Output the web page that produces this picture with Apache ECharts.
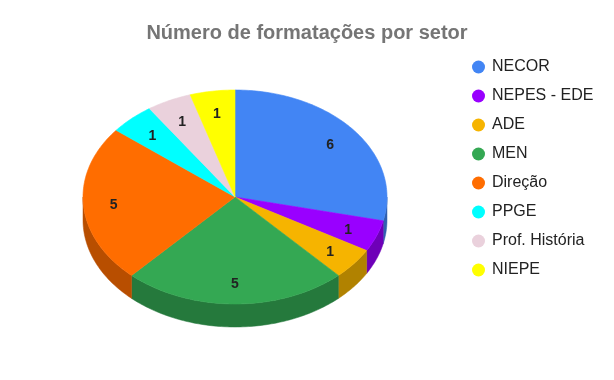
<!DOCTYPE html>
<html><head><meta charset="utf-8">
<script src="https://cdn.jsdelivr.net/npm/echarts@6/dist/echarts.min.js"></script>
<style>html,body{margin:0;padding:0;background:#fff}#c{width:614px;height:380px}</style>
</head><body><div id="c"></div>
<script>
const titleText = 'Número de formatações por setor';
const categories = ['NECOR', 'NEPES - EDE', 'ADE', 'MEN', 'Direção', 'PPGE', 'Prof. História', 'NIEPE'];
const values = [6, 1, 1, 5, 5, 1, 1, 1];
const colors = ['#4285F4', '#9900FF', '#F6B400', '#34A853', '#FF6D00', '#00FFFF', '#EAD1DC', '#FFFF00'];

function darken(hex, f) {
  const n = parseInt(hex.slice(1), 16);
  const r = Math.round(((n >> 16) & 255) * f), g = Math.round(((n >> 8) & 255) * f), b = Math.round((n & 255) * f);
  return 'rgb(' + r + ',' + g + ',' + b + ')';
}

const total = values.reduce((a, b) => a + b, 0);
const starts = [];
let acc = 0;
values.forEach(v => { starts.push(acc); acc += v; });

const CX = 235, CY = 197, RX = 152, RY = 107, H = 23;
function pt(deg, dy) {
  const t = deg * Math.PI / 180;
  return [CX + RX * Math.sin(t), CY - RY * Math.cos(t) + (dy || 0)];
}
function arc(a, b, dy) {
  const pts = [];
  const n = Math.max(2, Math.ceil((b - a) / 1));
  for (let i = 0; i <= n; i++) pts.push(pt(a + (b - a) * i / n, dy));
  return pts;
}

const chart = echarts.init(document.getElementById('c'), null, { renderer: 'canvas' });
chart.setOption({
  animation: false,
  title: {
    text: titleText, left: 'center', top: 18,
    textStyle: { fontFamily: 'Liberation Sans, Arial, sans-serif', fontSize: 20, fontWeight: 'bold', color: '#757575' }
  },
  legend: {
    orient: 'vertical', left: 467, top: 54, icon: 'circle',
    itemWidth: 13, itemHeight: 13, itemGap: 13,
    data: categories,
    textStyle: { fontFamily: 'Liberation Sans, Arial, sans-serif', fontSize: 16, color: '#222', padding: [0, 0, 0, 2] }
  },
  series: [
    {
      type: 'pie', radius: [0, 0], center: [CX, CY], silent: true,
      label: { show: false },
      data: categories.map((c, i) => ({ name: c, value: values[i], itemStyle: { color: colors[i] } }))
    },
    {
      type: 'custom', coordinateSystem: 'none', silent: true,
      data: values,
      renderItem: function (params, api) {
        const i = params.dataIndex;
        const v = api.value(0);
        const a = starts[i] / total * 360, b = (starts[i] + v) / total * 360;
        const children = [];
        const sa = Math.max(a, 90), sb = Math.min(b, 270);
        if (sb > sa) {
          const top = arc(sa, sb, 0);
          const bot = arc(sa, sb, H).reverse();
          const sc = darken(colors[i], 0.72);
          children.push({ type: 'polygon', z2: 1, shape: { points: top.concat(bot) },
            style: { fill: sc, stroke: sc, lineWidth: 0.5 } });
        }
        const face = [[CX, CY]].concat(arc(a, b, 0));
        children.push({ type: 'polygon', z2: 10, shape: { points: face },
          style: { fill: colors[i], stroke: colors[i], lineWidth: 0.6 } });
        const m = (a + b) / 2 * Math.PI / 180, f = 0.8;
        children.push({ type: 'text', z2: 20,
          style: { x: CX + RX * f * Math.sin(m), y: CY - RY * f * Math.cos(m) + 2, text: String(v),
            fill: '#222', font: 'bold 14px Liberation Sans, Arial, sans-serif', align: 'center', verticalAlign: 'middle' } });
        return { type: 'group', children: children };
      }
    }
  ]
});
</script></body></html>
